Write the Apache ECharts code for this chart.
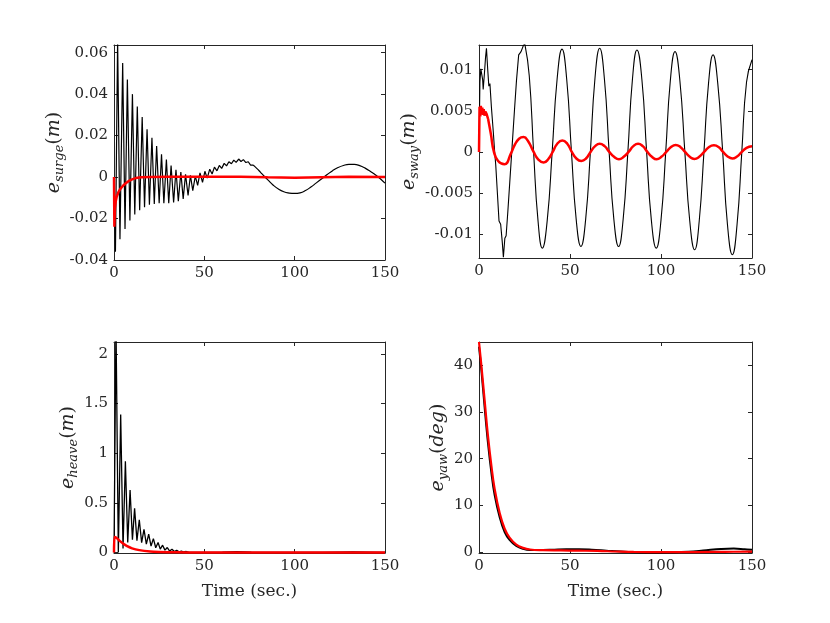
<!DOCTYPE html>
<html>
<head>
<meta charset="utf-8">
<script src="https://cdn.jsdelivr.net/npm/echarts@6/dist/echarts.min.js"></script>
<style>
html, body { margin: 0; background: #fff; }
#chart { width: 830px; height: 623px; }
</style>
</head>
<body>
<div id="chart"></div>
<script>
// tick labels
var timeTicks = [0, 50, 100, 150];
var surgeTicks = [-0.04, -0.02, 0, 0.02, 0.04, 0.06];
var swayTicks = [-0.01, -0.005, 0, 0.005, 0.01];
var heaveTicks = [0, 0.5, 1, 1.5, 2];
var yawTicks = [0, 10, 20, 30, 40];

// surge, black: fast zigzag part, then slow tail
var surgeBlackFast = [[0,0],[0.8,-0.036],[2.0,0.066],[3.3,-0.030],[4.8,0.055],[6.1,-0.025],[7.4,0.047],[8.8,-0.021],
  [10.2,0.040],[11.5,-0.018],[12.9,0.034],[14.2,-0.016],[15.6,0.029],[16.9,-0.0145],[18.3,0.023],[19.6,-0.0134],
  [21.0,0.019],[22.3,-0.013],[23.6,0.015],[25.0,-0.0126],[26.3,0.011],[27.6,-0.0126],[29.0,0.0084],[30.3,-0.0126],
  [31.6,0.0056],[33.0,-0.0123],[34.3,0.0035],[35.6,-0.0116],[37.0,0.0024],[38.3,-0.0105],[39.6,0.0013],[41.0,-0.0089],
  [42.3,0.0008],[43.6,-0.0065],[45.0,0.0005],[46.3,-0.004],[47.6,0.0020],[49.0,-0.0025],[50.3,0.0028],[51.6,-0.0005],
  [53.0,0.0038],[54.3,0.0015],[55.6,0.0048],[57.0,0.003],[58.3,0.0056],[59.6,0.0042],[61.0,0.0066],[62.3,0.0054],
  [63.6,0.0074],[65.0,0.0064],[66.3,0.0082],[67.6,0.0071],[69.0,0.0087],[70.3,0.0075],[71.6,0.0084],[73.0,0.0070],
  [74.3,0.0074],[75.6,0.0058],[77.0,0.0058]];
var surgeBlackSlow = [[77,0.0058],[79,0.0042],[81,0.0024],[83,0.0005],[85,-0.0012],[88,-0.0038],[91,-0.0058],[94,-0.0071],
  [97,-0.0077],[100,-0.0079],[103,-0.0076],[106,-0.0065],[109,-0.0048],[112,-0.0028],[115,-0.0008],[118,0.0012],
  [121,0.0031],[124,0.0046],[127,0.0056],[130,0.0061],[133,0.0061],[136,0.0055],[139,0.0043],[142,0.0027],
  [145,0.0009],[148,-0.0013],[150,-0.0029]];
var surgeRed = [[0,0],[0.2,-0.024],[0.5,-0.015],[1,-0.0115],[1.5,-0.0095],[2.5,-0.0072],[3.5,-0.0057],[5,-0.0042],
  [6.5,-0.003],[8,-0.002],[10,-0.0011],[12,-0.0005],[15,-0.0001],[20,0],[30,0.0001],[40,0.0001],[55,0.0002],
  [70,0.0002],[85,-0.0001],[100,-0.0003],[115,-0.0001],[130,0.0001],[150,0]];

// sway
var swayBlackFast = [[0,0],[0.5,0.0085],[1.0,0.0101],[1.5,0.0099],[2.0,0.0088],[2.3,0.0076],[3.0,0.0096],[3.6,0.0115],
  [4.1,0.0126],[4.8,0.0100],[5.4,0.0080],[6.0,0.0083],[6.8,0.0055],[7.9,0.0023],[8.6,0.0],[9.2,-0.0016],[10.1,-0.0050],
  [11.0,-0.0084],[11.9,-0.0088],[12.8,-0.0110],[13.4,-0.0128],[14.2,-0.0105],[14.9,-0.0102],[15.8,-0.0074],
  [16.9,-0.0037],[18.2,0.0007],[19.5,0.0051],[20.6,0.0087],[21.8,0.0118],[23.1,0.0122],[24.5,0.0130],[25.2,0.0131]];
var swayBlackSlow = [[25.2,0.0131],[27.6,0.0093],[30.0,0],[32.4,-0.0083],[34.8,-0.0117],[37.5,-0.0083],[40.2,0],
  [42.9,0.0088],[45.6,0.0125],[48.2,0.0088],[50.8,0],[53.4,-0.0082],[56.0,-0.0115],[58.6,-0.0082],[61.2,0],
  [63.7,0.0089],[66.3,0.0126],[68.9,0.0089],[71.5,0],[74.1,-0.0082],[76.7,-0.0115],[79.2,-0.0082],[81.8,0],
  [84.3,0.0088],[86.8,0.0124],[89.5,0.0088],[92.1,0],[94.7,-0.0083],[97.4,-0.0117],[100.0,-0.0083],[102.6,0],
  [105.1,0.0086],[107.7,0.0122],[110.4,0.0086],[113.1,0],[115.8,-0.0084],[118.5,-0.0119],[121.0,-0.0084],[123.6,0],
  [126.1,0.0083],[128.6,0.0118],[131.2,0.0083],[133.9,0],[136.5,-0.0088],[139.2,-0.0125],[141.8,-0.0088],[144.4,0],
  [147.0,0.0085],[150.0,0.0112]];
var swayRedFast = [[0,0],[0.3,0.0055],[0.7,0.0043],[1.0,0.0056],[1.4,0.0046],[1.8,0.0054],[2.2,0.0045],[2.6,0.0052],
  [3.0,0.0044],[3.5,0.0049],[4.2,0.0046],[5.0,0.0040]];
var swayRedSlow = [[5.0,0.0040],[6.5,0.0022],[8.2,0],[10.5,-0.0011],[14.0,-0.0015],[17.5,-0.0002],[19.5,0.0008],
  [22,0.0016],[24.5,0.0018],[27,0.0013],[30,0],[32.5,-0.0009],[35.5,-0.0013],[38,-0.0009],[40.5,0],[43,0.0010],
  [45.8,0.0014],[48.5,0.0010],[51,0],[53.5,-0.0008],[56.2,-0.0011],[58.8,-0.0008],[61.3,0],[63.8,0.0007],
  [66.3,0.0010],[69,0.0007],[71.6,0],[74.2,-0.0006],[76.9,-0.0009],[79.5,-0.0006],[82.2,0],[84.8,0.0007],
  [87.4,0.0010],[90,0.0007],[92.5,0],[95,-0.0006],[97.6,-0.0009],[100.2,-0.0006],[102.9,0],[105.5,0.0006],
  [108.1,0.00085],[110.6,0.0006],[113.2,0],[115.8,-0.0006],[118.3,-0.00085],[121,-0.0006],[123.7,0],[126.4,0.0006],
  [129.1,0.0008],[131.6,0.0006],[134.1,0],[136.6,-0.00055],[139.2,-0.0008],[141.8,-0.00055],[144.4,0],
  [147,0.0005],[150,0.0007]];

// heave
var heaveBlack = [[0,0],[1.1,2.3],[2.4,0.0],[3.7,1.39],[5.0,0.04],[6.3,0.92],[7.6,0.10],[8.9,0.63],[10.2,0.13],
  [11.4,0.445],[12.7,0.12],[14.0,0.33],[15.3,0.10],[16.6,0.234],[17.9,0.085],[19.2,0.184],[20.5,0.065],[21.8,0.14],
  [23.1,0.048],[24.4,0.10],[25.6,0.034],[26.9,0.074],[28.2,0.024],[29.5,0.05],[30.8,0.015],[32.1,0.033],[33.4,0.01],
  [34.7,0.023],[36.0,0.007],[37.3,0.015],[38.6,0.005],[40.0,0.01],[41.3,0.003],[50,0.001],[60,0.004],[68,0.008],
  [76,0.004],[85,0.001],[100,0.0],[115,0.001],[125,0.004],[132,0.006],[140,0.004],[150,0.001]];
var heaveRed = [[0,0],[0.3,0.155],[1.5,0.145],[3,0.12],[5,0.09],[7,0.066],[10,0.042],[14,0.024],[20,0.01],
  [25,0.005],[30,0.003],[40,0.001],[60,0],[150,0]];

// yaw
var yawBlack = [[0,44],[1.3,39],[3.1,31],[4.9,23.5],[6.8,17],[8.6,12.2],[11.4,7.4],[14.1,4.3],[16.8,2.6],[20.5,1.3],
  [24.2,0.7],[28,0.45],[32,0.45],[40,0.5],[48,0.6],[55,0.6],[62,0.5],[70,0.3],[78,0.1],[86,-0.05],[95,-0.15],
  [105,-0.1],[115,0.05],[125,0.4],[133,0.65],[140,0.75],[146,0.6],[150,0.5]];
var yawRed = [[0,45],[1.3,40],[3.1,32.5],[4.9,25],[6.8,18.5],[8.6,13.5],[11.4,8.3],[14.1,5],[16.8,3.1],[20.5,1.6],
  [24.2,0.9],[28,0.55],[35,0.4],[45,0.35],[55,0.3],[65,0.25],[75,0.12],[85,0.02],[100,0],[120,0],[135,0.05],[150,0.1]];

var serif = 'DejaVu Serif';
var ink = '#262626';

var chart = echarts.init(document.getElementById('chart'));

function nameRich() {
  return {
    e: {fontFamily: serif, fontStyle: 'italic', fontSize: 19, lineHeight: 24, color: ink},
    s: {fontFamily: serif, fontStyle: 'italic', fontSize: 13, lineHeight: 14, verticalAlign: 'bottom', color: ink},
    p: {fontFamily: serif, fontSize: 19, lineHeight: 24, color: ink},
    m: {fontFamily: serif, fontStyle: 'italic', fontSize: 19, lineHeight: 24, color: ink}
  };
}

// one axis of the box; mirror = the tick-only side (top / right)
function axis(dim, g, ticks, lo, hi, mirror, name, gap) {
  var a = {
    type: 'value', gridIndex: g, min: lo, max: hi,
    position: dim == 'x' ? (mirror ? 'top' : 'bottom') : (mirror ? 'right' : 'left'),
    axisLine: {show: true, onZero: false, lineStyle: {color: ink, width: 1}},
    axisTick: {show: true, inside: true, length: 4, customValues: ticks, lineStyle: {color: ink}},
    axisLabel: {show: !mirror, customValues: ticks, margin: 6, color: ink, fontFamily: serif, fontSize: 15,
      formatter: function (v) { return String(v); }},
    splitLine: {show: false}
  };
  if (!mirror && name) {
    a.name = name;
    a.nameLocation = 'middle';
    a.nameGap = gap;
    if (dim == 'y') {
      a.nameRotate = 90;
      a.nameTextStyle = {rich: nameRich()};
    } else {
      a.nameTextStyle = {fontFamily: serif, fontSize: 17, color: ink};
    }
  }
  return a;
}

var grids = [
  {left: 114, top: 45, width: 271, height: 215},
  {left: 479, top: 45, width: 273, height: 213},
  {left: 114, top: 342, width: 271, height: 211},
  {left: 479, top: 342, width: 273, height: 211}
];

var xAxes = [], yAxes = [];
[0, 1, 2, 3].forEach(function (g) {
  var tName = g >= 2 ? 'Time (sec.)' : null;
  xAxes.push(axis('x', g, timeTicks, 0, 150, false, tName, 30));
  xAxes.push(axis('x', g, timeTicks, 0, 150, true));
});
yAxes.push(axis('y', 0, surgeTicks, -0.04, 0.0637, false, '{e|e}{s|surge}{p|(}{m|m}{p|)}', 43));
yAxes.push(axis('y', 0, surgeTicks, -0.04, 0.0637, true));
yAxes.push(axis('y', 1, swayTicks, -0.0129, 0.0130, false, '{e|e}{s|sway}{p|(}{m|m}{p|)}', 55));
yAxes.push(axis('y', 1, swayTicks, -0.0129, 0.0130, true));
yAxes.push(axis('y', 2, heaveTicks, -0.005, 2.12, false, '{e|e}{s|heave}{p|(}{m|m}{p|)}', 24));
yAxes.push(axis('y', 2, heaveTicks, -0.005, 2.12, true));
yAxes.push(axis('y', 3, yawTicks, -0.2, 45, false, '{e|e}{s|yaw}{p|(}{m|deg}{p|)}', 22));
yAxes.push(axis('y', 3, yawTicks, -0.2, 45, true));

function line(g, data, color, width, smooth) {
  return {
    type: 'line', xAxisIndex: 2 * g, yAxisIndex: 2 * g, data: data,
    showSymbol: false, symbol: 'none', smooth: smooth || false,
    lineStyle: {color: color, width: width}, itemStyle: {color: color}
  };
}

chart.setOption({
  animation: false,
  grid: grids,
  xAxis: xAxes,
  yAxis: yAxes,
  series: [
    line(0, surgeBlackFast, '#000', 1.2),
    line(0, surgeBlackSlow, '#000', 1.2, 0.5),
    line(0, surgeRed, '#ff0000', 2.5),
    line(1, swayBlackFast, '#000', 1.1),
    line(1, swayBlackSlow, '#000', 1.1, 0.5),
    line(1, swayRedFast, '#ff0000', 2.5),
    line(1, swayRedSlow, '#ff0000', 2.5, 0.5),
    line(2, heaveBlack, '#000', 1.3),
    line(2, heaveRed, '#ff0000', 2.5, 0.3),
    line(3, yawBlack, '#000', 2, 0.4),
    line(3, yawRed, '#ff0000', 2.2, 0.4)
  ]
});
</script>
</body>
</html>
